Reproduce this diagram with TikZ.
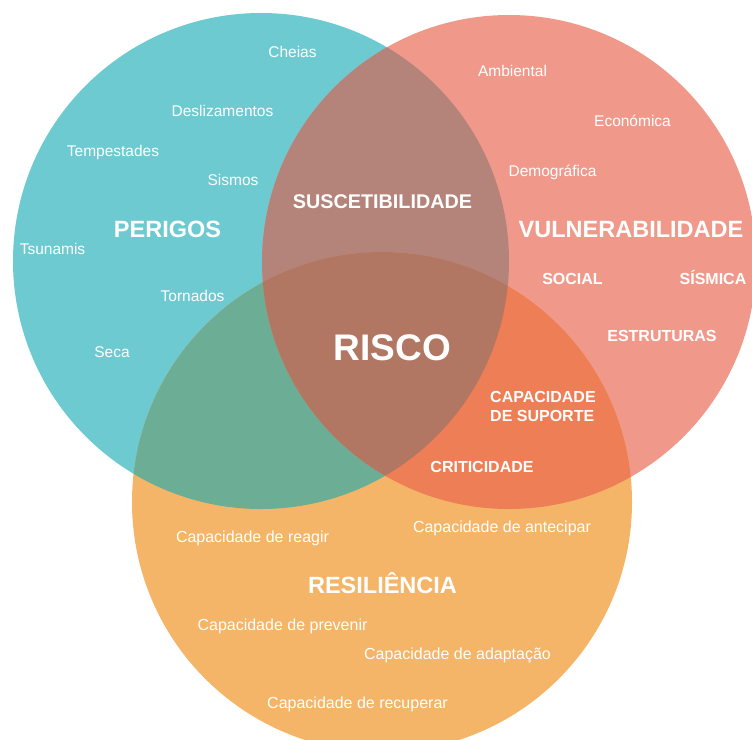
\documentclass[tikz,border=0pt]{standalone}
\usepackage{fontspec}
\setmainfont{Liberation Sans}
\definecolor{cTeal}{HTML}{6DCAD1}
\definecolor{cRed}{HTML}{F0998B}
\definecolor{cOrange}{HTML}{F4B568}
\definecolor{cTR}{HTML}{B4847B}
\definecolor{cTO}{HTML}{6CAD96}
\definecolor{cRO}{HTML}{EE7E56}
\definecolor{cAll}{HTML}{B27763}
\tikzset{
  lbl/.style={text=white, inner sep=0pt, anchor=base},
  smalltxt/.style={lbl, font=\fontsize{15.5bp}{18bp}\selectfont},
  captxt/.style={lbl, font=\fontsize{16bp}{19bp}\selectfont},
  boldsm/.style={lbl, font=\fontsize{16bp}{19bp}\selectfont\bfseries},
  boldbig/.style={lbl, font=\fontsize{23.5bp}{27bp}\selectfont\bfseries},
  boldmid/.style={lbl, font=\fontsize{19.8bp}{23bp}\selectfont\bfseries},
  boldhuge/.style={lbl, font=\fontsize{37bp}{40bp}\selectfont\bfseries},
}
\begin{document}
\begin{tikzpicture}[x=1bp,y=-1bp]
\useasboundingbox (0,0) rectangle (752,740);
\def\tealc{(261,261) circle[radius=248bp]}
\def\redc{(509,262) circle[radius=247bp]}
\def\orac{(382,502) circle[radius=250bp]}
\begin{scope}
\clip (0,0) rectangle (752,740);
\fill[cTeal] \tealc;
\fill[cRed] \redc;
\fill[cOrange] \orac;
\begin{scope}\clip \tealc; \fill[cTR] \redc; \end{scope}
\begin{scope}\clip \tealc; \fill[cTO] \orac; \end{scope}
\begin{scope}\clip \redc; \fill[cRO] \orac; \end{scope}
\begin{scope}\clip \tealc; \clip \redc; \fill[cAll] \orac; \end{scope}
\end{scope}

% PERIGOS
\node[smalltxt] (cheias) at (292.5,57.5) {Cheias};
\node[smalltxt] (desl) at (222.5,116.5) {Deslizamentos};
\node[smalltxt] (temp) at (113,156.5) {Tempestades};
\node[smalltxt] (sism) at (233,185.5) {Sismos};
\node[smalltxt] (tsun) at (52.5,254.5) {Tsunamis};
\node[smalltxt] (torn) at (192.5,301.5) {Tornados};
\node[smalltxt] (seca) at (112,357.5) {Seca};
\node[boldbig] (perigos) at (167.5,237.4) {PERIGOS};

% VULNERABILIDADE
\node[smalltxt] (amb) at (512.5,76.5) {Ambiental};
\node[smalltxt] (econ) at (632.5,126.5) {Económica};
\node[smalltxt] (demo) at (552.5,176.5) {Demográfica};
\node[boldbig] (vuln) at (631,237.4) {VULNERABILIDADE};
\node[boldsm] (social) at (572.5,284.7) {SOCIAL};
\node[boldsm] (sismica) at (713,284.7) {SÍSMICA};
\node[boldsm] (estr) at (662,341.7) {ESTRUTURAS};

% intersections
\node[boldmid] (susc) at (382.5,208) {SUSCETIBILIDADE};
\node[boldhuge] (risco) at (392.5,360) {RISCO};
\node[boldsm, anchor=base west] (capsup1) at (490,402.7) {CAPACIDADE};
\node[boldsm, anchor=base west] (capsup2) at (490,421.7) {DE SUPORTE};
\node[boldsm] (crit) at (482,472.7) {CRITICIDADE};

% RESILIENCIA
\node[captxt] (reagir) at (252.5,542.7) {Capacidade de reagir};
\node[captxt] (antec) at (502,532.7) {Capacidade de antecipar};
\node[boldbig] (resil) at (382.5,593.4) {RESILIÊNCIA};
\node[captxt] (prev) at (282.5,630.7) {Capacidade de prevenir};
\node[captxt] (adapt) at (457.5,659.7) {Capacidade de adaptação};
\node[captxt] (recup) at (357.5,708.7) {Capacidade de recuperar};
\end{tikzpicture}
\end{document}
